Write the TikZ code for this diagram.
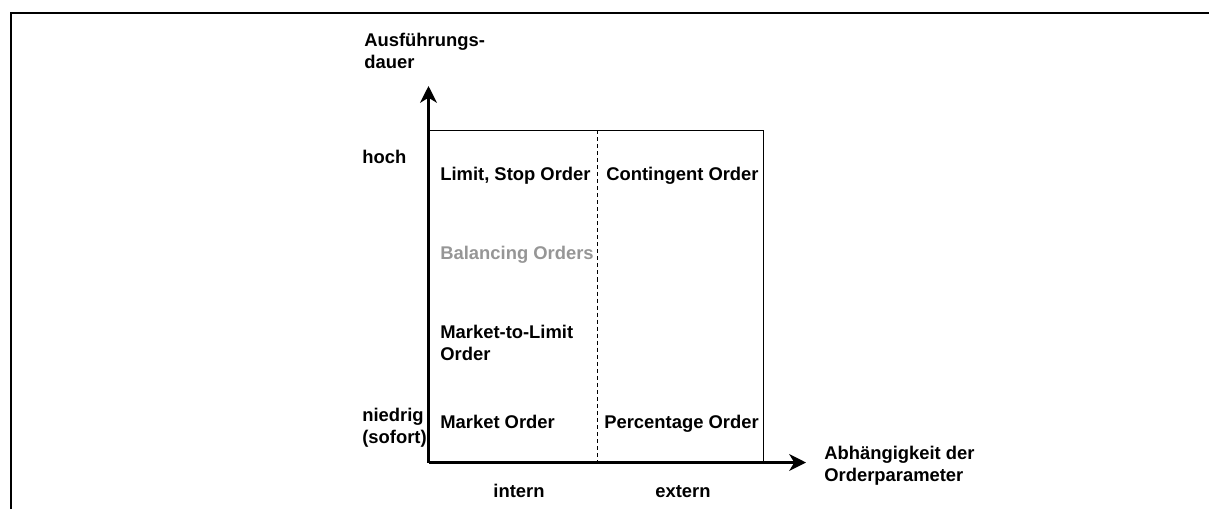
\documentclass[tikz,border=0pt]{standalone}
\usepackage{fontspec}
\setmainfont{Liberation Sans}
\usetikzlibrary{arrows.meta}
\definecolor{balgray}{RGB}{150,150,150}

\begin{document}
\begin{tikzpicture}[
        x=0.598pt,
        y=-0.598pt,
        label/.style={
            anchor=base west,
            align=left,
            inner sep=0pt,
            font=\fontsize{11}{12.8}\selectfont\bfseries
        },
        axis/.style={
            -{Stealth[length=10pt,width=10pt,inset=3pt]},
            line width=1.8pt
        },
        frame/.style={
            line width=1.4pt
        },
        grid/.style={
            line width=0.6pt
        }
    ]

        \useasboundingbox (0,0) rectangle (1209,509);

        % outer frame, cut at the page edges
        \draw[frame] (11,509) -- (11,13) -- (1209,13);

        \coordinate (o) at (428.5,462.5);
        \coordinate (ytip) at (428.5,86);
        \coordinate (xtip) at (806,462.5);
        \coordinate (boxne) at (763,130);
        \coordinate (dtop) at (597,130);
        \coordinate (dbot) at (597,462.5);

        \draw[grid] (o) rectangle (boxne);
        \draw[grid, dash pattern=on 2.4pt off 1.8pt] (dtop) -- (dbot);

        \draw[axis] (o) -- (ytip);
        \draw[axis] (o) -- (xtip);

        % multi-line labels sit on the baseline of their last line
        \node[label] (ylab) at (364,68) {Ausführungs-\\dauer};
        \node[label] (hoch) at (362,163) {hoch};
        \node[label] (niedrig) at (362,443) {niedrig\\(sofort)};

        \node[label] (limit) at (440,180) {Limit, Stop Order};
        \node[label] (cont) at (606,180) {Contingent Order};
        \node[label, text=balgray] (bal) at (440,259) {Balancing Orders};
        \node[label] (mtl) at (440,360) {Market-to-Limit\\Order};
        \node[label] (market) at (440,428) {Market Order};
        \node[label] (perc) at (604,428) {Percentage Order};

        \node[label, anchor=base] (intern) at (519,497) {intern};
        \node[label, anchor=base] (extern) at (683,497) {extern};
        \node[label] (xlab) at (824,481) {Abhängigkeit der\\Orderparameter};

    \end{tikzpicture}
\end{document}
